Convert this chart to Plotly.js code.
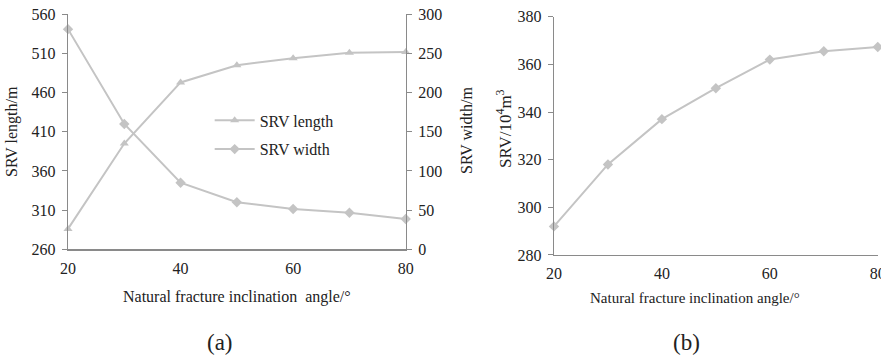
<!DOCTYPE html>
<html>
<head>
<meta charset="utf-8">
<script src="https://cdn.plot.ly/plotly-3.0.1.min.js"></script>
<style>html,body{margin:0;padding:0;background:#fff;}#chart{width:881px;height:359px;}</style>
</head>
<body>
<div id="chart"></div>
<script>
const angles = [20, 30, 40, 50, 60, 70, 80];
const srvLength = [286, 395, 473, 495, 504, 511, 512];
const srvWidth = [281, 160, 85, 60, 51.5, 46.7, 38.7];
const srvVolume = [292, 318, 337, 350, 362, 365.5, 367.3];
const leftTicks = [260, 310, 360, 410, 460, 510, 560];
const rightTicks = [0, 50, 100, 150, 200, 250, 300];
const bTicks = [280, 300, 320, 340, 360, 380];
const xTicks = [20, 40, 60, 80];

const lineCol = '#c4c4c4';
const axisCol = '#8a8a8a';
const txtCol = '#222222';
const FONT = 'Liberation Serif';

const traces = [
  {x: angles, y: srvLength, name: 'SRV length', type: 'scatter', mode: 'lines+markers',
   line: {color: lineCol, width: 2}, marker: {symbol: 'triangle-up', size: 8, color: lineCol},
   xaxis: 'x', yaxis: 'y', cliponaxis: false, legendgroup: 'g1'},
  {x: angles, y: srvWidth, name: 'SRV width', type: 'scatter', mode: 'lines+markers',
   line: {color: lineCol, width: 2}, marker: {symbol: 'diamond', size: 8, color: lineCol},
   xaxis: 'x', yaxis: 'y2', cliponaxis: false, legendgroup: 'g2'},
  {x: angles, y: srvVolume, name: 'SRV', type: 'scatter', mode: 'lines+markers',
   line: {color: lineCol, width: 2}, marker: {symbol: 'diamond', size: 8, color: lineCol},
   xaxis: 'x2', yaxis: 'y3', cliponaxis: false, showlegend: false}
];

const tickFont = {family: FONT, size: 16, color: txtCol};
const baseX = {range: [20, 80], tickvals: xTicks, showline: true, linecolor: axisCol, linewidth: 1.3,
  ticks: '', showgrid: false, zeroline: false, tickfont: tickFont, ticklabelstandoff: 4,
  ticklabeloverflow: 'allow'};
const baseY = {showline: true, linecolor: axisCol, linewidth: 1.3, ticks: 'outside', ticklen: 5,
  tickcolor: axisCol, showgrid: false, zeroline: false, tickfont: tickFont, ticklabelstandoff: 3};

function ann(text, px, py, size, angle) {
  return {text: text, xref: 'paper', yref: 'paper', x: px/881, y: 1 - py/359,
    xanchor: 'center', yanchor: 'middle', textangle: angle || 0, showarrow: false,
    font: {family: FONT, size: size, color: txtCol}};
}

const layout = {
  width: 881, height: 359,
  margin: {l: 0, r: 0, t: 0, b: 0},
  paper_bgcolor: '#fff', plot_bgcolor: 'rgba(0,0,0,0)',
  font: {family: FONT, color: txtCol},
  showlegend: true,
  legend: {x: 0.238, y: 0.712, xanchor: 'left', yanchor: 'top', bgcolor: 'rgba(0,0,0,0)',
    font: {family: FONT, size: 16, color: txtCol}, traceorder: 'grouped', tracegroupgap: 5, itemwidth: 40},
  xaxis: Object.assign({}, baseX, {domain: [0.0772, 0.4605], anchor: 'y'}),
  yaxis: Object.assign({}, baseY, {domain: [0.3056, 0.9602], range: [260, 560], tickvals: leftTicks, anchor: 'x'}),
  yaxis2: Object.assign({}, baseY, {domain: [0.3056, 0.9602], range: [0, 300], tickvals: rightTicks,
    overlaying: 'y', side: 'right', anchor: 'x'}),
  xaxis2: Object.assign({}, baseX, {domain: [0.6288, 0.9963], anchor: 'y3'}),
  yaxis3: Object.assign({}, baseY, {domain: [0.2897, 0.9535], range: [280, 380], tickvals: bTicks, anchor: 'x2'}),
  annotations: [
    ann('SRV length/m', 12, 132, 16, -90),
    ann('SRV width/m', 466, 131, 16, -90),
    ann('SRV/10<sup>4</sup>m<sup>3</sup>', 504, 129, 17, -90),
    ann('Natural fracture inclination  angle/°', 237, 297, 16),
    ann('Natural fracture inclination angle/°', 695, 298, 15),
    ann('(a)', 220, 342, 23),
    ann('(b)', 686, 342, 23)
  ]
};

Plotly.newPlot('chart', traces, layout, {displayModeBar: false, staticPlot: true});
</script>
</body>
</html>
